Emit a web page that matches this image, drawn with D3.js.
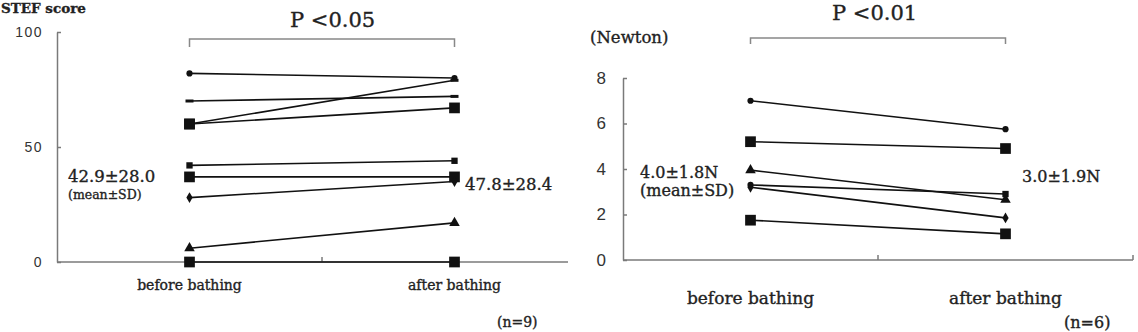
<!DOCTYPE html>
<html>
<head>
<meta charset="utf-8">
<script src="https://cdn.jsdelivr.net/npm/d3@7"></script>
<style>
  body { margin: 0; background: #fff; }
  svg { display: block; }
</style>
</head>
<body>
<div id="chart"></div>
<script>
/* Paired before/after plots: STEF score and grip force (Newton) */

const phases = ["before bathing", "after bathing"];

// Left panel: STEF score, n=9
const stefBefore = [82, 70, 60, 60, 42, 37, 28, 6, 0];
const stefAfter = [80, 72, 79, 67, 44, 37, 35, 17, 0];
const stefMarkBefore = ["circle", "dash", "bigsquare", "bigsquare", "square", "bigsquare", "diamond", "triangle", "bigsquare"];
const stefMarkAfter = ["circle", "dash", "dash", "bigsquare", "square", "bigsquare", "diamond", "triangle", "bigsquare"];
const stefTicks = [0, 50, 100];

// Right panel: Newton, n=6
const newtonBefore = [7.0, 5.2, 3.95, 3.3, 3.2, 1.75];
const newtonAfter = [5.75, 4.9, 2.65, 2.9, 1.85, 1.15];
const newtonMarkBefore = ["circle", "bigsquare", "triangle", "circle", "diamond", "bigsquare"];
const newtonMarkAfter = ["circle", "bigsquare", "triangle", "square", "diamond", "bigsquare"];
const newtonTicks = [0, 2, 4, 6, 8];

const width = 1138, height = 332;
const serif = "'DejaVu Serif', 'Liberation Serif', serif";
const sans = "'Liberation Sans', Arial, sans-serif";
const axisColor = "#7a7a7a";
const ink = "#111";

const svg = d3.select("#chart")
  .append("svg")
  .attr("width", width)
  .attr("height", height);

const markerDefs = {
  circle: { sym: d3.symbolCircle, size: 30 },
  square: { sym: d3.symbolSquare, size: 40 },
  bigsquare: { sym: d3.symbolSquare, size: 115 },
  diamond: { sym: d3.symbolDiamond, size: 34 },
  triangle: { sym: d3.symbolTriangle, size: 48 }
};

function drawMarker(g, type, cx, cy) {
  if (type === "dash") {
    g.append("path")
      .attr("d", "M-4,0H4")
      .attr("transform", `translate(${cx},${cy})`)
      .attr("stroke", ink)
      .attr("stroke-width", 3);
    return;
  }
  const m = markerDefs[type];
  g.append("path")
    .attr("d", d3.symbol(m.sym, m.size)())
    .attr("transform", `translate(${cx},${cy})`)
    .attr("fill", ink);
}

// slightly heavier serif text, like the scanned original
function serifText(sel, size) {
  return sel
    .attr("font-family", serif)
    .attr("font-size", size)
    .attr("fill", "#222")
    .attr("stroke", "#222")
    .attr("stroke-width", 0.35);
}

function drawPanel(p) {
  const g = svg.append("g");

  const x = d3.scaleBand().domain(phases).range(p.xRange);
  const cx = c => x(c) + x.bandwidth() / 2;
  const y = d3.scaleLinear().domain(p.yDomain).range(p.yRange);

  // Y axis, ticks pointing inward
  g.append("g")
    .attr("transform", `translate(${p.xRange[0]},0)`)
    .call(d3.axisLeft(y).tickValues(p.ticks).tickSizeInner(-4).tickSizeOuter(0).tickPadding(p.tickPad))
    .call(a => a.selectAll("path, line").attr("stroke", axisColor).attr("stroke-width", 1.5))
    .call(a => a.selectAll("text")
      .attr("fill", "#333")
      .attr("font-family", sans)
      .attr("font-size", p.tickFont)
      .attr("letter-spacing", p.tickSpacing));

  // X axis line with divider ticks
  const y0 = y(p.yDomain[0]);
  g.append("line")
    .attr("x1", p.xRange[0]).attr("x2", p.axisEnd)
    .attr("y1", y0).attr("y2", y0)
    .attr("stroke", axisColor).attr("stroke-width", 1.5);
  const dividers = [x(phases[1])].concat(p.endTick ? [p.axisEnd] : []);
  g.selectAll(".divider")
    .data(dividers)
    .join("line")
    .attr("x1", d => d).attr("x2", d => d)
    .attr("y1", y0).attr("y2", y0 - 5)
    .attr("stroke", axisColor).attr("stroke-width", 1.5);

  // Paired lines
  const pairs = p.before.map((v, i) => ({ b: v, a: p.after[i], mb: p.markBefore[i], ma: p.markAfter[i] }));
  g.selectAll(".pair")
    .data(pairs)
    .join("line")
    .attr("x1", cx(phases[0])).attr("x2", cx(phases[1]))
    .attr("y1", d => y(d.b)).attr("y2", d => y(d.a))
    .attr("stroke", ink)
    .attr("stroke-width", 1.6);

  pairs.forEach(d => {
    drawMarker(g, d.mb, cx(phases[0]), y(d.b));
    drawMarker(g, d.ma, cx(phases[1]), y(d.a));
  });

  // Significance bracket
  const bx0 = cx(phases[0]), bx1 = cx(phases[1]);
  g.append("path")
    .attr("d", `M${bx0},${p.bracketY + p.bracketDrop}V${p.bracketY}H${bx1}V${p.bracketY + p.bracketDrop}`)
    .attr("fill", "none")
    .attr("stroke", "#888")
    .attr("stroke-width", 1.5);

  g.append("text")
    .attr("x", p.pX).attr("y", p.pY)
    .call(serifText, 21)
    .text(p.pText);

  // Category labels
  g.selectAll(".cat")
    .data(phases)
    .join("text")
    .attr("x", d => cx(d))
    .attr("y", p.catY)
    .attr("text-anchor", "middle")
    .call(serifText, p.catFont)
    .text(d => d);

  p.notes.forEach(n => {
    g.append("text")
      .attr("x", n.x).attr("y", n.y)
      .call(serifText, n.size)
      .attr("font-weight", n.weight || "normal")
      .text(n.text);
  });
}

drawPanel({
  xRange: [57, 587], axisEnd: 568, endTick: false,
  yDomain: [0, 100], yRange: [262, 32], ticks: stefTicks,
  tickPad: 14, tickFont: 14, tickSpacing: 1.5,
  before: stefBefore, after: stefAfter,
  markBefore: stefMarkBefore, markAfter: stefMarkAfter,
  bracketY: 39, bracketDrop: 8,
  pText: "P <0.05", pX: 290, pY: 27,
  catY: 290, catFont: 14,
  notes: [
    { text: "STEF score", x: 1, y: 13, size: 13.5, weight: "bold" },
    { text: "42.9\u00b128.0", x: 68, y: 182, size: 16.5 },
    { text: "(mean\u00b1SD)", x: 68, y: 199, size: 12.5 },
    { text: "47.8\u00b128.4", x: 465, y: 190, size: 16.5 },
    { text: "(n=9)", x: 497, y: 327, size: 14 }
  ]
});

drawPanel({
  xRange: [623, 1133], axisEnd: 1133, endTick: true,
  yDomain: [0, 8], yRange: [260, 78], ticks: newtonTicks,
  tickPad: 17, tickFont: 17, tickSpacing: 0,
  before: newtonBefore, after: newtonAfter,
  markBefore: newtonMarkBefore, markAfter: newtonMarkAfter,
  bracketY: 38, bracketDrop: 6,
  pText: "P <0.01", pX: 832, pY: 20,
  catY: 304, catFont: 17,
  notes: [
    { text: "(Newton)", x: 590, y: 43, size: 16.5 },
    { text: "4.0\u00b11.8N", x: 640, y: 178, size: 16 },
    { text: "(mean\u00b1SD)", x: 640, y: 196, size: 16 },
    { text: "3.0\u00b11.9N", x: 1022, y: 182, size: 16 },
    { text: "(n=6)", x: 1064, y: 328, size: 16 }
  ]
});
</script>
</body>
</html>
